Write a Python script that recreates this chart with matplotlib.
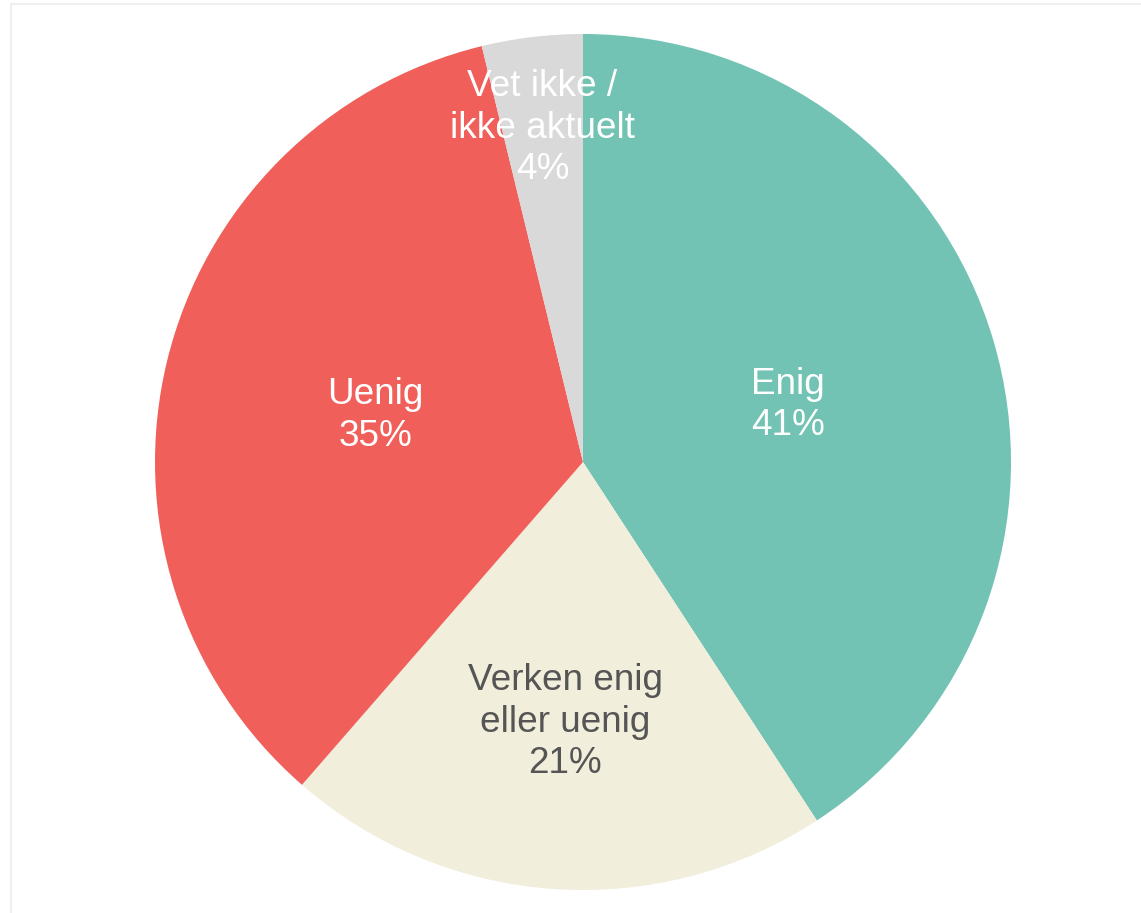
import numpy as np
import matplotlib.pyplot as plt
from matplotlib.patches import Rectangle
from matplotlib.transforms import offset_copy

plt.rcParams['font.family'] = ['Liberation Sans', 'DejaVu Sans']

# data (clockwise from 12 o'clock)
categories = ['Enig', 'Verken enig\neller uenig', 'Uenig', 'Vet ikke /\nikke aktuelt']
values = [40.8, 20.6, 34.8, 3.8]
pct_labels = ['41%', '21%', '35%', '4%']
colors = ['#72c3b3', '#f1eedc', '#f05f5a', '#d9d9d9']
text_colors = ['white', '#555555', 'white', 'white']
label_radius = [0.5, 0.6, 0.5, 0.795]

W, H = 1141, 913
fig = plt.figure(figsize=(W / 100, H / 100), dpi=100)

# faint frame around the chart area
fig.patches.append(Rectangle((10.5 / W, -0.05), 1.2, (H - 4.5) / H + 0.05,
                             transform=fig.transFigure, fill=False,
                             edgecolor='#efefef', linewidth=1.5))

cx, cy, r = 583, 462, 428
ax = fig.add_axes([(cx - r) / W, (H - cy - r) / H, 2 * r / W, 2 * r / H])
wedges, _ = ax.pie(values, colors=colors, startangle=90, counterclock=False,
                   radius=1.0, wedgeprops=dict(linewidth=0))

# nudge labels down a few pixels to match the reference
tr = offset_copy(ax.transData, fig=fig, x=0, y=-4, units='dots')
for w, cat, pct, tc, d in zip(wedges, categories, pct_labels, text_colors, label_radius):
    mid = np.deg2rad((w.theta1 + w.theta2) / 2)
    ax.text(d * np.cos(mid), d * np.sin(mid), f'{cat}\n{pct}', ha='center', va='center',
            color=tc, fontsize=26.6, linespacing=1.25, transform=tr)

ax.set_xlim(-1, 1)
ax.set_ylim(-1, 1)
ax.set_aspect('equal')
ax.axis('off')

fig.savefig('out.png', dpi=100)
